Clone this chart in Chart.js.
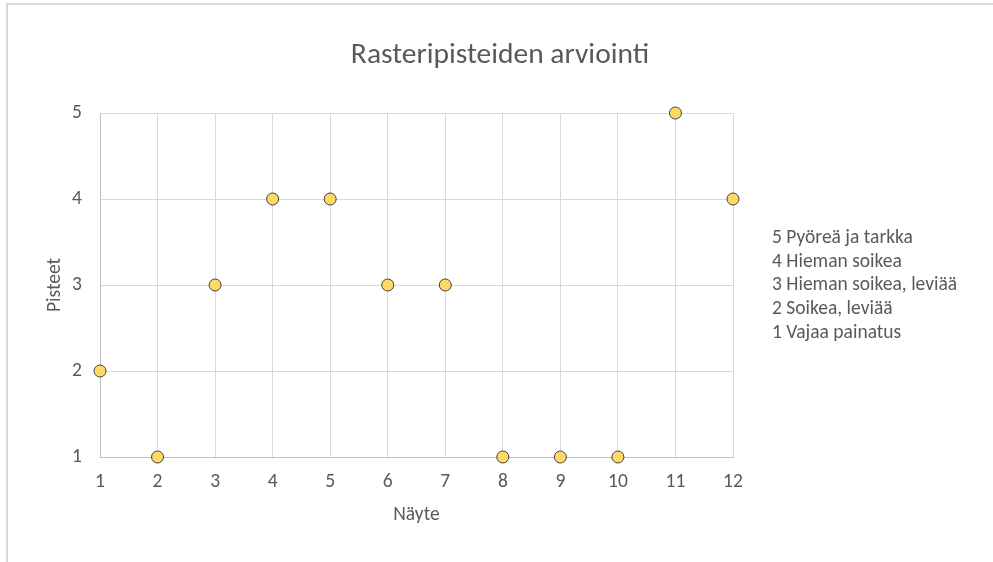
<!DOCTYPE html>
<html>
<head>
<meta charset="utf-8">
<script src="https://cdn.jsdelivr.net/npm/chart.js@4"></script>
<style>
  body { margin: 0; background: #fff; }
  #kehys {
    position: absolute; left: 6px; top: 3px; width: 1000px; height: 600px;
    border-left: 2px solid #d9d9d9; border-top: 2px solid #d9d9d9;
  }
  #kaavio { position: absolute; left: 0; top: 0; }
  #otsikko {
    position: absolute; left: 250px; top: 35px; width: 500px; text-align: center;
    font-family: Carlito, Lato, sans-serif; font-size: 29.5px; line-height: 36px;
    color: #595959; white-space: nowrap;
  }
  #selite {
    position: absolute; left: 772px; top: 225px;
    font-family: Carlito, Lato, sans-serif; font-size: 19.5px; line-height: 23.7px;
    color: #595959; white-space: nowrap;
  }
</style>
</head>
<body>
<div id="kehys"></div>
<canvas id="kaavio" width="993" height="562"></canvas>
<div id="otsikko"></div>
<div id="selite"></div>
<script>
const otsikko = "Rasteripisteiden arviointi";
const nayte = [1, 2, 3, 4, 5, 6, 7, 8, 9, 10, 11, 12];
const pisteet = [2, 1, 3, 4, 4, 3, 3, 1, 1, 1, 5, 4];
const selitteet = [
  "5 Pyöreä ja tarkka",
  "4 Hieman soikea",
  "3 Hieman soikea, leviää",
  "2 Soikea, leviää",
  "1 Vajaa painatus"
];

const fontti = "Carlito, Lato, sans-serif";
const harmaa = "#595959";

document.getElementById("otsikko").textContent = otsikko;
document.getElementById("selite").innerHTML = selitteet.map(s => "<div>" + s + "</div>").join("");

new Chart(document.getElementById("kaavio"), {
  type: "scatter",
  data: {
    datasets: [{
      data: nayte.map((x, i) => ({ x: x, y: pisteet[i] })),
      backgroundColor: "#ffd966",
      borderColor: "#404040",
      borderWidth: 1,
      pointRadius: 6,
      pointHoverRadius: 6,
      clip: false
    }]
  },
  options: {
    responsive: false,
    animation: false,
    layout: { padding: { left: 0, right: 260, top: 113, bottom: 0 } },
    plugins: {
      legend: { display: false },
      tooltip: { enabled: false }
    },
    scales: {
      x: {
        type: "linear",
        min: 1, max: 12,
        afterFit: s => { s.height = 105; },
        grid: { color: "#d9d9d9", drawTicks: false },
        border: { color: "#bfbfbf" },
        ticks: { stepSize: 1, padding: 13.8, color: harmaa, font: { family: fontti, size: 19.5 } },
        title: {
          display: true, text: "Näyte", color: harmaa,
          font: { family: fontti, size: 19.5 }, padding: { top: 0, bottom: 35.3 }
        }
      },
      y: {
        min: 1, max: 5,
        afterFit: s => { s.width = 100; },
        grid: { color: "#d9d9d9", drawTicks: false },
        border: { color: "#bfbfbf" },
        ticks: { stepSize: 1, padding: 18, color: harmaa, font: { family: fontti, size: 19.5 } },
        title: {
          display: true, text: "Pisteet", color: harmaa,
          font: { family: fontti, size: 19.5 }, padding: { top: 43.3, bottom: 0 }
        }
      }
    }
  }
});
</script>
</body>
</html>
